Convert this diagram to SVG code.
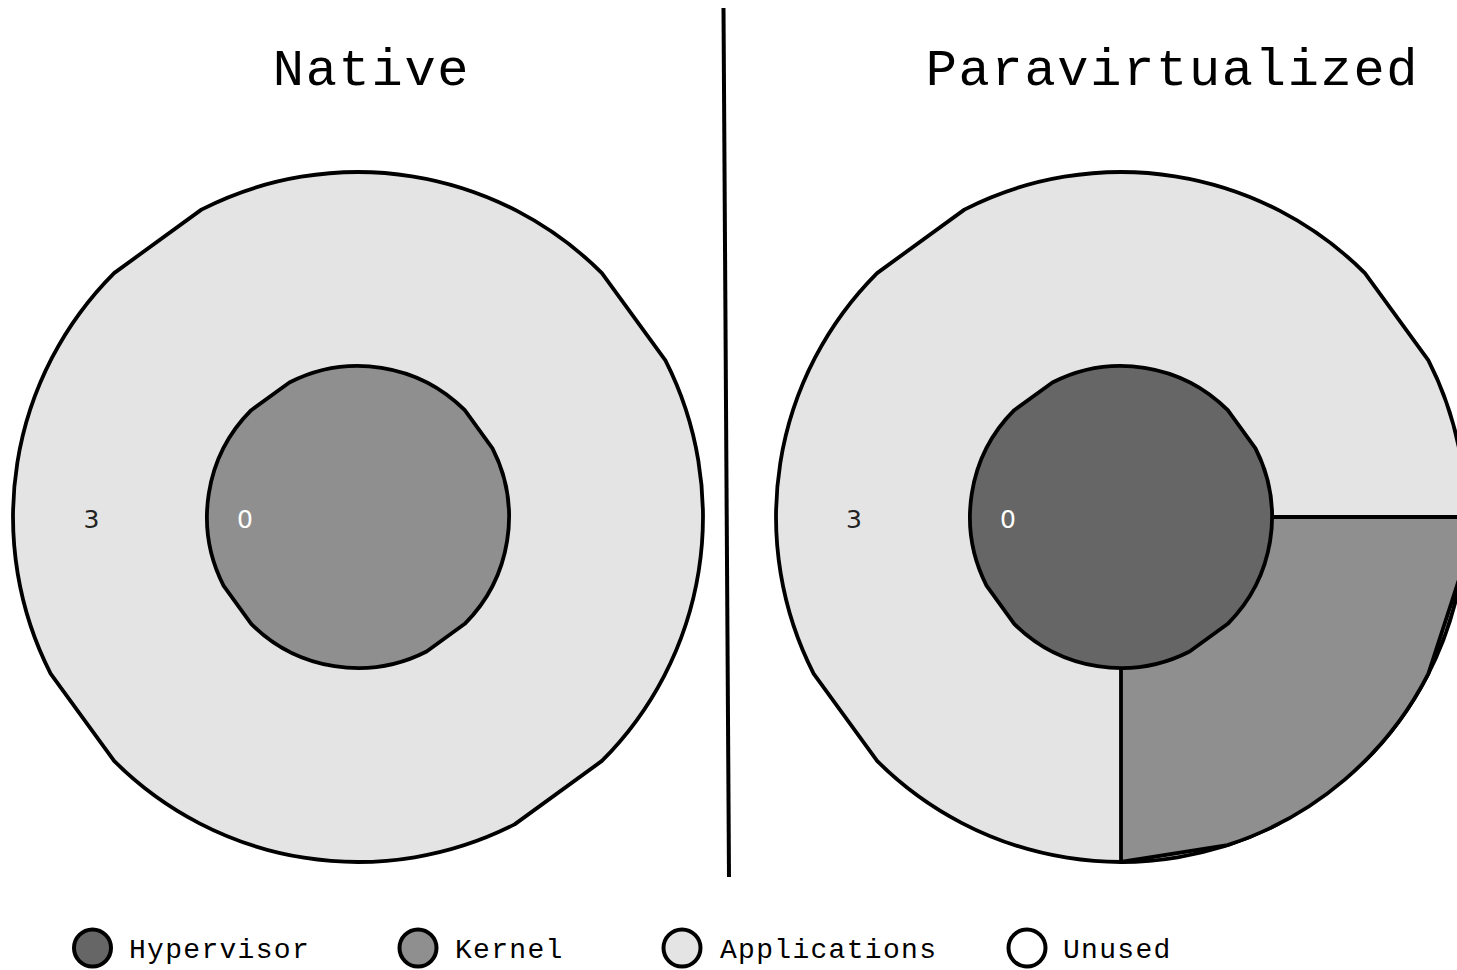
<svg xmlns="http://www.w3.org/2000/svg" width="1457" height="970" viewBox="0 0 1457 970">
  <style>
    .ring { stroke: #000; stroke-width: 3.8; stroke-linejoin: round; }
    .hyp { fill: #666666; }
    .ker { fill: #8f8f8f; }
    .app { fill: #e4e4e4; }
    .unu { fill: #ffffff; }
    .title { font-family: "Liberation Mono", "Courier New", monospace; font-size: 52px; letter-spacing: 1.7px; fill: #000; text-anchor: middle; }
    .legend { font-family: "Liberation Mono", "Courier New", monospace; font-size: 28px; letter-spacing: 1.3px; fill: #000; }
    .lab { font-family: "DejaVu Sans", sans-serif; font-size: 25px; text-anchor: middle; }
    .lab3 { fill: #222; }
    .lab0 { fill: #fff; }
    .lg { stroke: #000; stroke-width: 4; }
  </style>
  <rect width="1457" height="970" fill="#fff"/>

  <g id="connectors">
    <line x1="723.5" y1="8" x2="729" y2="877" stroke="#000" stroke-width="4"/>
  </g>

  <g id="title-native"><text class="title" x="371.5" y="85">Native</text></g>
  <g id="title-para"><text class="title" x="1172.5" y="85">Paravirtualized</text></g>

  <g id="native-applications">
    <path class="ring app" d="M665.4,360.4 L601.9,273.1 A345,345 0 0 0 201.4,209.6 L114.1,273.1 A345,345 0 0 0 50.6,673.6 L114.1,760.9 A345,345 0 0 0 514.6,824.4 L601.9,760.9 A345,345 0 0 0 665.4,360.4 Z"/>
    <text class="lab lab3" x="91.5" y="528">3</text>
  </g>
  <g id="native-kernel">
    <path class="ring ker" d="M492.5,448.4 L464.8,410.2 A151,151 0 0 0 289.4,382.5 L251.2,410.2 A151,151 0 0 0 223.5,585.6 L251.2,623.8 A151,151 0 0 0 426.6,651.5 L464.8,623.8 A151,151 0 0 0 492.5,448.4 Z"/>
    <text class="lab lab0" x="245" y="528">0</text>
  </g>

  <g id="para-applications">
    <path class="ring app" d="M1428.4,360.4 L1364.9,273.1 A345,345 0 0 0 964.4,209.6 L877.1,273.1 A345,345 0 0 0 813.6,673.6 L877.1,760.9 A345,345 0 0 0 1277.6,824.4 L1364.9,760.9 A345,345 0 0 0 1428.4,360.4 Z"/>
    <text class="lab lab3" x="854" y="528">3</text>
  </g>
  <g id="para-kernel">
    <path class="ring ker" d="M1121,517 L1466,517 A345,345 0 0 1 1461.8,571 L1428.4,673.6 A345,345 0 0 1 1227.6,845.1 L1121,862 Z"/>
  </g>
  <g id="para-hypervisor">
    <path class="ring hyp" d="M1255.5,448.4 L1227.8,410.2 A151,151 0 0 0 1052.4,382.5 L1014.2,410.2 A151,151 0 0 0 986.5,585.6 L1014.2,623.8 A151,151 0 0 0 1189.6,651.5 L1227.8,623.8 A151,151 0 0 0 1255.5,448.4 Z"/>
    <text class="lab lab0" x="1008" y="528">0</text>
  </g>

  <g id="legend-hypervisor">
    <circle class="lg hyp" cx="92.5" cy="948" r="18.5"/>
    <text class="legend" x="129" y="958">Hypervisor</text>
  </g>
  <g id="legend-kernel">
    <circle class="lg ker" cx="418" cy="948" r="18.5"/>
    <text class="legend" x="455" y="958">Kernel</text>
  </g>
  <g id="legend-applications">
    <circle class="lg app" cx="682" cy="948" r="18.5"/>
    <text class="legend" x="720" y="958">Applications</text>
  </g>
  <g id="legend-unused">
    <circle class="lg unu" cx="1027" cy="948" r="18.5"/>
    <text class="legend" x="1063" y="958">Unused</text>
  </g>
</svg>
